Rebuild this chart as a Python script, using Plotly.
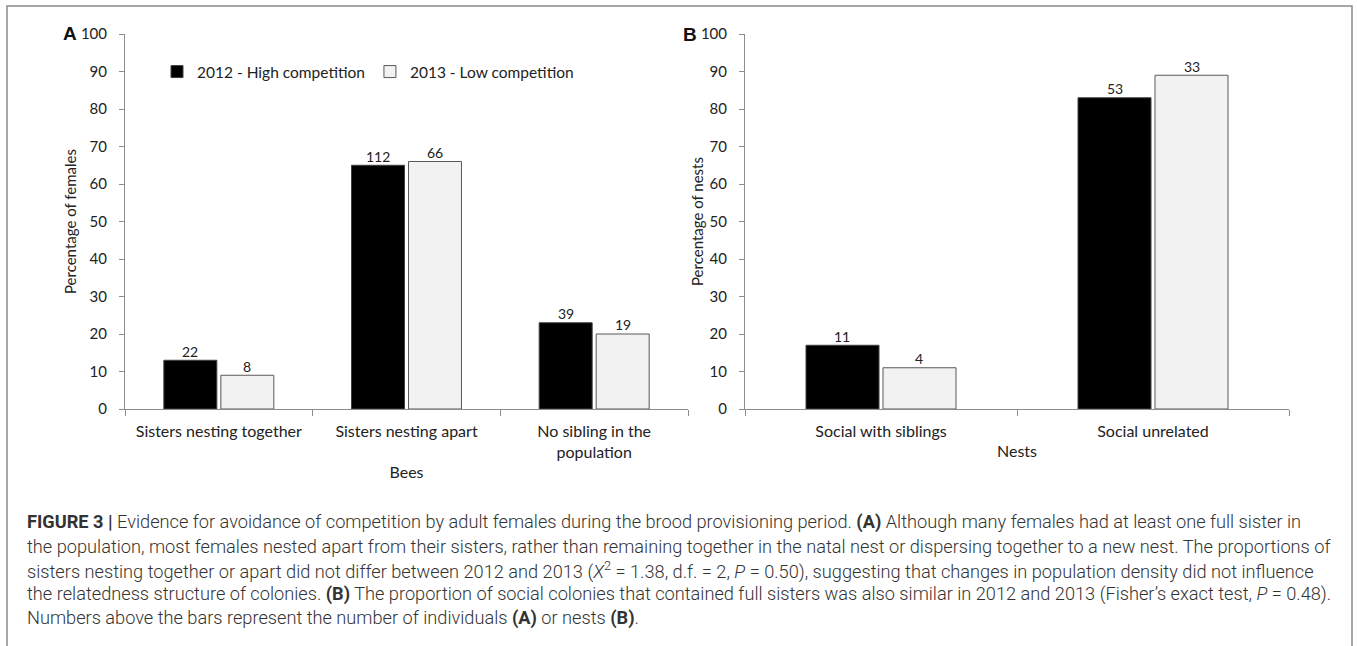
import plotly.graph_objects as go

# ---------------- data ----------------
cats_a = ["Sisters nesting together", "Sisters nesting apart", "No sibling in the<br>population"]
pct_2012_a = [13, 65, 23]
pct_2013_a = [9, 66, 20]
n_2012_a = [22, 112, 39]
n_2013_a = [8, 66, 19]

cats_b = ["Social with siblings", "Social unrelated"]
pct_2012_b = [17, 83]
pct_2013_b = [11, 89]
n_2012_b = [11, 53]
n_2013_b = [4, 33]

series_names = ["2012 - High competition", "2013 - Low competition"]
y_ticks = list(range(0, 101, 10))

caption_lines = [
    "<b>FIGURE 3 |</b> Evidence for avoidance of competition by adult females during the brood provisioning period. <b>(A)</b> Although many females had at least one full sister in",
    "the population, most females nested apart from their sisters, rather than remaining together in the natal nest or dispersing together to a new nest. The proportions of",
    "sisters nesting together or apart did not differ between 2012 and 2013 (<i>X</i><sup>2</sup> = 1.38, d.f. = 2, <i>P</i> = 0.50), suggesting that changes in population density did not influence",
    "the relatedness structure of colonies. <b>(B)</b> The proportion of social colonies that contained full sisters was also similar in 2012 and 2013 (Fisher’s exact test, <i>P</i> = 0.48).",
    "Numbers above the bars represent the number of individuals <b>(A)</b> or nests <b>(B)</b>.",
]

# ---------------- layout helpers ----------------
W, H = 1357, 646
def fx(px):
    return px / W
def fy(py):
    return 1 - py / H

FONT = "Lato"
TXT = "#222222"
AX = "#8c8c8c"
BLACK = dict(color="#000000", line=dict(color="#404040", width=1))
LIGHT = dict(color="#f2f2f2", line=dict(color="#595959", width=1))

fig = go.Figure()

# panel A bars (category width ~187.7 px, bar 53 px)
CA = 187.7
fig.add_trace(go.Bar(x=cats_a, y=pct_2012_a, name=series_names[0],
                     width=53 / CA, offset=-55 / CA, marker=BLACK,
                     xaxis="x", yaxis="y", legendgroup="a", showlegend=True, hoverinfo="skip"))
fig.add_trace(go.Bar(x=cats_a, y=pct_2013_a, name=series_names[1],
                     width=53 / CA, offset=2 / CA, marker=LIGHT,
                     xaxis="x", yaxis="y", legendgroup="b", showlegend=True, hoverinfo="skip"))

# panel B bars (category width ~272 px, bar 73 px)
CB = 272.0
fig.add_trace(go.Bar(x=cats_b, y=pct_2012_b, name=series_names[0],
                     width=73 / CB, offset=-75 / CB, marker=BLACK,
                     xaxis="x2", yaxis="y2", legendgroup="a", showlegend=False, hoverinfo="skip"))
fig.add_trace(go.Bar(x=cats_b, y=pct_2013_b, name=series_names[1],
                     width=73 / CB, offset=2 / CB, marker=LIGHT,
                     xaxis="x2", yaxis="y2", legendgroup="b", showlegend=False, hoverinfo="skip"))

# counts above the bars, placed through the axes' own scales
def add_counts(cats, vals, counts, xref, yref, shift):
    for c, v, n in zip(cats, vals, counts):
        fig.add_annotation(x=c, y=v, xref=xref, yref=yref, text=str(n), showarrow=False,
                           xshift=shift, yshift=9, yanchor="middle", xanchor="center",
                           font=dict(family=FONT, size=14, color=TXT))

add_counts(cats_a, pct_2012_a, n_2012_a, "x", "y", -28.5)
add_counts(cats_a, pct_2013_a, n_2013_a, "x", "y", 28.5)
add_counts(cats_b, pct_2012_b, n_2012_b, "x2", "y2", -38.5)
add_counts(cats_b, pct_2013_b, n_2013_b, "x2", "y2", 38.5)

xcommon = dict(
    type="category", showline=True, linecolor=AX, linewidth=1,
    ticks="outside", tickson="boundaries", ticklen=6, tickcolor=AX,
    ticklabelstandoff=8, automargin=False,
    showgrid=False, zeroline=False,
    tickfont=dict(family=FONT, size=16, color=TXT),
    title_font=dict(family=FONT, size=16, color=TXT),
)
ycommon = dict(
    range=[0, 100], tickvals=y_ticks, showline=True, linecolor=AX, linewidth=1,
    ticks="outside", ticklen=5, tickcolor=AX, ticklabelstandoff=9, automargin=False,
    showgrid=False, zeroline=False,
    tickfont=dict(family=FONT, size=15, color=TXT),
    title_font=dict(family=FONT, size=15, color=TXT),
)

fig.update_layout(
    width=W, height=H,
    margin=dict(l=0, r=0, t=0, b=0, pad=0, autoexpand=False),
    paper_bgcolor="white", plot_bgcolor="white",
    barmode="overlay",
    font=dict(family=FONT, color=TXT),
    xaxis=dict(xcommon, domain=[fx(125), fx(688)], anchor="y",
               title=dict(text="Bees", standoff=6)),
    yaxis=dict(ycommon, domain=[fy(409), fy(34)], anchor="x",
               title=dict(text="Percentage of females", standoff=0)),
    xaxis2=dict(xcommon, domain=[fx(745), fx(1289)], anchor="y2",
                title=dict(text="Nests", standoff=6)),
    yaxis2=dict(ycommon, domain=[fy(409), fy(34)], anchor="x2"),
    legend=dict(orientation="h", x=fx(157), y=fy(72), xanchor="left", yanchor="middle",
                font=dict(family=FONT, size=15.5, color=TXT), bgcolor="rgba(0,0,0,0)",
                traceorder="normal"),
    showlegend=True,
)

# y title of panel B sits tight against its tick labels
fig.add_annotation(text="Percentage of nests", x=fx(697), y=fy(222), xref="paper", yref="paper",
                   textangle=-90, xanchor="center", yanchor="middle", showarrow=False,
                   font=dict(family=FONT, size=15, color=TXT))

# panel letters
fig.add_annotation(text="<b>A</b>", x=fx(70), y=fy(34), xref="paper", yref="paper",
                   xanchor="center", yanchor="middle",
                   showarrow=False, font=dict(family="Liberation Sans", size=19, color="#111"))
fig.add_annotation(text="<b>B</b>", x=fx(690), y=fy(35), xref="paper", yref="paper",
                   xanchor="center", yanchor="middle",
                   showarrow=False, font=dict(family="Liberation Sans", size=19, color="#111"))

# caption
for i, line in enumerate(caption_lines):
    fig.add_annotation(text=line, x=fx(25), y=fy(522 + 24 * i), xref="paper", yref="paper",
                       xanchor="left", yanchor="middle", showarrow=False, align="left",
                       font=dict(family="Roboto", size=18.2, color="#333333", weight=300))

# outer frame
fig.add_shape(type="rect", xref="paper", yref="paper",
              x0=fx(7), x1=fx(1352), y0=fy(660), y1=fy(6),
              line=dict(color="#8a8a8a", width=1.5), fillcolor="rgba(0,0,0,0)", layer="below")

fig.write_html(
    "out.html",
    config={"displayModeBar": False},
    post_script=(
        "document.body.style.margin='0px';"
        "document.body.style.overflow='hidden';"
        "var d=document.getElementById('{plot_id}');"
        "d.style.position='fixed';d.style.top='0px';d.style.left='0px';"
    ),
)
